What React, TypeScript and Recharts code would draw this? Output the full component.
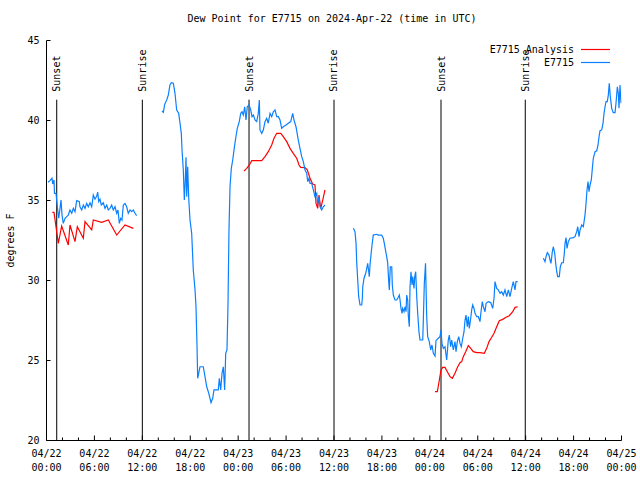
import React from 'react'
import { LineChart, Line, XAxis, YAxis, ReferenceLine, Legend } from 'recharts'

// hours after 2024-04-22 00:00 UTC, dew point in degrees F
const obs1: [number, number][] = [
  [0.19, 36.14], [0.44, 36.24], [0.69, 36.39], [0.78, 36.03], [0.94, 36.28], [1.0, 35.45],
  [1.19, 35.45], [1.4, 34.41], [1.53, 33.89], [1.69, 34.51], [1.82, 35.03], [1.94, 34.09],
  [2.1, 33.57], [2.32, 33.89], [2.53, 33.99], [2.73, 34.09], [2.94, 34.41], [3.16, 34.2],
  [3.36, 34.51], [3.57, 34.3], [3.78, 34.99], [4.11, 34.93], [4.19, 34.61], [4.41, 34.41],
  [4.61, 34.72], [4.82, 34.51], [5.03, 34.82], [5.23, 34.61], [5.45, 34.86], [5.66, 34.61],
  [5.86, 35.34], [6.07, 35.08], [6.29, 35.28], [6.41, 35.53], [6.54, 34.93], [6.7, 35.08],
  [6.86, 34.72], [7.11, 34.86], [7.33, 34.51], [7.54, 34.72], [7.74, 34.41], [7.95, 34.51],
  [8.16, 34.72], [8.36, 34.41], [8.58, 34.61], [8.79, 34.2], [8.95, 34.41], [9.12, 33.57],
  [9.29, 33.89], [9.45, 33.78], [9.62, 34.72], [9.83, 34.82], [10.04, 34.61], [10.24, 34.2],
  [10.46, 34.41], [10.67, 34.3], [10.87, 34.41], [11.08, 34.2], [11.29, 34.05],
]

const obs2: [number, number][] = [
  [14.46, 40.59], [14.63, 40.51], [14.8, 41.01], [15.05, 41.28], [15.25, 41.59], [15.46, 42.22],
  [15.63, 42.36], [15.88, 42.33], [16.09, 41.7], [16.3, 40.66], [16.55, 40.45], [16.72, 39.83],
  [16.88, 39.2], [16.97, 38.16], [17.13, 36.91], [17.26, 35.03], [17.38, 36.28], [17.47, 37.7],
  [17.56, 35.24], [17.68, 37.11], [17.81, 35.14], [17.97, 33.78], [18.18, 32.95], [18.38, 30.66],
  [18.6, 29.41], [18.72, 28.36], [18.85, 25.86], [18.93, 23.89], [19.1, 24.3], [19.22, 24.61],
  [19.63, 24.61], [19.85, 23.99], [20.06, 23.36], [20.26, 23.05], [20.47, 22.64], [20.6, 22.36],
  [20.81, 22.64], [20.97, 23.16], [21.31, 23.16], [21.51, 23.16], [21.64, 23.89], [21.81, 23.16],
  [21.98, 24.2], [22.14, 24.61], [22.31, 23.16], [22.44, 25.45], [22.6, 25.66], [22.73, 28.57],
  [22.85, 33.16], [22.98, 35.86], [23.14, 37.01], [23.32, 37.53], [23.48, 38.16], [23.69, 38.89],
  [23.89, 39.51], [24.14, 39.93], [24.32, 40.45], [24.48, 40.55], [24.64, 40.34], [24.82, 40.86],
  [24.98, 40.03], [25.14, 40.86], [25.36, 40.97], [25.57, 40.66], [25.73, 40.24], [25.9, 40.34],
  [26.11, 40.03], [26.32, 39.93], [26.52, 40.45], [26.65, 41.28], [26.73, 39.41], [26.95, 39.2],
  [27.15, 39.41], [27.36, 39.93], [27.57, 40.14], [27.77, 39.83], [27.99, 40.45], [28.2, 40.24],
  [28.4, 40.55], [28.61, 40.66], [28.83, 40.24], [29.03, 40.24], [29.24, 40.03], [29.45, 39.51],
  [29.65, 39.61], [29.99, 39.72], [30.28, 39.83], [30.58, 39.93], [30.83, 40.45], [30.99, 40.03],
  [31.24, 39.61], [31.53, 38.78], [31.74, 38.26], [31.96, 37.74], [32.16, 37.43], [32.37, 36.91],
  [32.58, 36.7], [32.71, 36.18], [32.87, 36.39], [33.0, 36.07], [33.21, 36.07], [33.41, 35.66],
  [33.62, 35.24], [33.84, 35.45], [33.96, 34.72], [34.12, 35.24], [34.25, 34.61], [34.46, 34.41],
  [34.66, 34.61], [34.87, 34.72],
]

const obs3: [number, number][] = [
  [38.42, 33.26], [38.63, 33.05], [38.76, 32.32], [38.84, 31.18], [38.97, 30.03], [39.09, 28.99],
  [39.26, 28.47], [39.47, 28.47], [39.55, 28.89], [39.6, 29.61], [39.76, 30.14], [39.97, 30.45],
  [40.1, 30.76], [40.22, 31.07], [40.35, 30.55], [40.42, 30.24], [40.51, 30.97], [40.63, 31.59],
  [40.76, 32.22], [40.92, 32.84], [41.35, 32.89], [41.55, 32.84], [41.97, 32.84], [42.17, 32.64],
  [42.3, 32.32], [42.48, 31.8], [42.6, 31.49], [42.73, 31.07], [42.85, 29.93], [42.93, 29.41],
  [43.05, 30.86], [43.23, 30.86], [43.3, 29.72], [43.43, 29.09], [43.64, 28.78], [43.85, 28.78],
  [44.05, 28.95], [44.18, 29.09], [44.27, 28.78], [44.39, 28.26], [44.52, 27.95], [44.6, 28.26],
  [44.77, 28.05], [44.89, 28.36], [45.02, 28.05], [45.1, 29.09], [45.23, 28.78], [45.3, 27.84],
  [45.43, 27.11], [45.52, 29.61], [45.64, 30.55], [45.77, 29.72], [45.86, 30.24], [46.02, 29.51],
  [46.11, 30.24], [46.23, 30.55], [46.36, 28.99], [46.48, 27.95], [46.64, 26.8], [46.77, 26.28],
  [47.11, 26.28], [47.18, 27.43], [47.31, 29.82], [47.46, 31.07], [47.61, 27.74], [47.73, 26.49],
  [47.93, 26.18], [48.11, 25.66], [48.27, 25.97], [48.44, 25.45], [48.65, 25.28], [48.77, 26.24],
  [49.06, 26.39], [49.27, 26.49], [49.4, 26.91], [49.52, 26.07], [49.69, 25.76], [49.9, 25.86],
  [50.11, 25.03], [50.31, 26.28], [50.44, 26.59], [50.61, 25.86], [50.74, 26.28], [50.94, 25.66],
  [51.15, 26.18], [51.28, 25.55], [51.44, 26.18], [51.62, 26.49], [51.78, 26.07], [51.94, 25.86],
  [52.12, 26.39], [52.28, 26.8], [52.41, 27.53], [52.53, 27.84], [52.69, 27.11], [52.82, 27.74],
  [52.94, 27.01], [53.12, 27.64], [53.24, 28.16], [53.37, 28.47], [53.53, 28.26], [53.66, 27.95],
  [53.87, 27.74], [54.07, 27.74], [54.28, 27.43], [54.41, 28.05], [54.57, 28.68], [54.7, 28.36],
  [54.91, 28.05], [55.04, 28.57], [55.32, 28.68], [55.62, 28.62], [55.87, 28.26], [56.04, 28.89],
  [56.16, 29.93], [56.37, 29.51], [56.57, 29.41], [56.79, 29.2], [57.0, 29.3], [57.2, 29.09],
  [57.41, 29.41], [57.63, 28.99], [57.83, 29.41], [58.04, 28.99], [58.25, 29.51], [58.45, 29.93],
  [58.67, 29.41], [58.79, 29.93], [59.0, 29.93],
]

const obs4: [number, number][] = [
  [62.21, 31.39], [62.42, 31.18], [62.55, 31.49], [62.71, 31.74], [62.92, 31.59], [63.05, 31.28],
  [63.17, 31.07], [63.34, 31.8], [63.46, 32.11], [63.64, 31.7], [63.76, 31.07], [63.89, 30.55],
  [64.01, 30.24], [64.21, 30.24], [64.34, 30.86], [64.51, 31.11], [64.71, 31.11], [64.84, 31.7],
  [64.93, 32.32], [65.05, 32.68], [65.18, 32.01], [65.34, 32.43], [65.55, 32.64], [65.97, 32.68],
  [66.18, 32.74], [66.39, 33.05], [66.52, 33.36], [66.68, 32.74], [66.81, 33.16], [67.02, 33.47],
  [67.22, 33.36], [67.43, 34.09], [67.56, 34.82], [67.68, 35.66], [67.81, 36.18], [67.93, 35.55],
  [68.06, 35.97], [68.22, 36.28], [68.35, 37.01], [68.47, 37.64], [68.69, 38.05], [68.9, 38.11],
  [69.06, 38.47], [69.19, 38.99], [69.31, 39.36], [69.52, 39.41], [69.69, 39.83], [69.81, 40.45],
  [69.94, 40.86], [70.06, 41.18], [70.22, 41.18], [70.35, 41.59], [70.47, 42.33], [70.6, 41.49],
  [70.77, 40.76], [70.97, 40.49], [71.19, 40.49], [71.31, 41.08], [71.48, 42.11], [71.6, 41.7],
  [71.69, 40.76], [71.81, 42.22], [71.94, 41.08],
]

const ana1: [number, number][] = [
  [0.73, 34.26], [0.94, 34.26], [1.19, 33.36], [1.48, 32.32], [1.9, 33.41], [2.73, 32.22],
  [2.94, 33.47], [3.57, 32.43], [3.86, 33.36], [4.61, 32.64], [4.82, 33.68], [5.66, 33.16],
  [5.86, 33.78], [6.91, 33.63], [7.74, 33.78], [8.79, 32.84], [9.83, 33.47], [10.87, 33.26],
]

const ana2: [number, number][] = [
  [24.73, 36.84], [25.07, 37.01], [25.4, 37.22], [25.7, 37.49], [26.95, 37.49], [27.36, 37.74],
  [27.77, 38.05], [28.2, 38.47], [28.49, 38.89], [28.83, 39.2], [29.33, 39.2], [29.65, 38.99],
  [30.08, 38.68], [30.49, 38.26], [30.9, 37.95], [31.33, 37.64], [31.62, 37.22], [31.83, 37.07],
  [32.37, 37.05], [32.66, 36.91], [33.0, 36.39], [33.33, 36.03], [33.62, 35.97], [33.75, 34.82],
  [33.96, 34.51], [34.12, 35.34], [34.34, 34.51], [34.59, 35.03], [34.87, 35.66],
]

const ana3: [number, number][] = [
  [48.65, 23.05], [48.94, 23.05], [49.19, 23.78], [49.4, 24.41], [49.61, 24.57], [49.9, 24.57],
  [50.19, 24.3], [50.53, 23.99], [50.82, 23.89], [51.15, 24.2], [51.49, 24.61], [51.78, 24.86],
  [51.99, 24.93], [52.19, 25.24], [52.49, 25.55], [52.82, 25.93], [53.12, 25.76], [53.44, 25.55],
  [53.87, 25.49], [54.28, 25.49], [54.82, 25.45], [55.12, 25.76], [55.41, 26.18], [55.75, 26.45],
  [56.04, 26.7], [56.37, 27.11], [56.7, 27.49], [57.13, 27.57], [57.54, 27.7], [57.95, 27.8],
  [58.38, 28.05], [58.67, 28.32], [59.0, 28.36],
]

const SUNSETS = [1.28, 25.36, 49.4]
const SUNRISES = [12.0, 36.0, 59.95]
const MARKER_TOP = 41.3

const HOUR_TICKS = [0, 2, 4, 6, 8, 10, 12, 14, 16, 18, 20, 22, 24, 26, 28, 30, 32, 34, 36,
  38, 40, 42, 44, 46, 48, 50, 52, 54, 56, 58, 60, 62, 64, 66, 68, 70, 72]
const DEG_TICKS = [20, 25, 30, 35, 40, 45]

const RED = '#ff0000'
const BLUE = '#0a80ff'
const FONT = '"DejaVu Sans Mono", monospace'

// segments joined with a null row so the line breaks in the gaps
function joinSegments(segs: [number, number][][]) {
  const rows: { h: number; v: number | null }[] = []
  segs.forEach((seg, i) => {
    if (i > 0) rows.push({ h: seg[0][0] - 0.05, v: null })
    seg.forEach(([h, v]) => rows.push({ h, v }))
  })
  return rows
}

const obsData = joinSegments([obs1, obs2, obs3, obs4])
const anaData = joinSegments([ana1, ana2, ana3])

function BottomTick({ x, y, payload }: any) {
  const h = payload.value
  const major = h % 6 === 0
  const day = 22 + Math.floor(h / 24)
  const hh = String(h % 24).padStart(2, '0')
  return (
    <g>
      <line x1={x} x2={x} y1={y} y2={y - (major ? 5 : 3)} stroke="#000" />
      {major && (
        <text x={x} y={y} textAnchor="middle" fontFamily={FONT} fontSize={10} fill="#000">
          <tspan x={x} dy={16}>{`04/${day}`}</tspan>
          <tspan x={x} dy={14}>{`${hh}:00`}</tspan>
        </text>
      )}
    </g>
  )
}

function TopTick({ x, y, payload }: any) {
  const major = payload.value % 6 === 0
  return <line x1={x} x2={x} y1={y} y2={y + (major ? 5 : 3)} stroke="#000" />
}

function LeftTick({ x, y, payload }: any) {
  return (
    <g>
      <line x1={x} x2={x + 4} y1={y} y2={y} stroke="#000" />
      <text x={x - 7} y={y} dy="0.35em" textAnchor="end" fontFamily={FONT} fontSize={10} fill="#000">
        {payload.value}
      </text>
    </g>
  )
}

function RightTick({ x, y }: any) {
  return <line x1={x} x2={x - 4} y1={y} y2={y} stroke="#000" />
}

function markerLabel(text: string) {
  return ({ viewBox }: any) => {
    const x = viewBox.x
    const y = viewBox.y - 8
    return (
      <text
        x={x} y={y} dy="0.35em" textAnchor="start" fontFamily={FONT} fontSize={10} fill="#000"
        transform={`rotate(-90 ${x} ${y})`}
      >
        {text}
      </text>
    )
  }
}

function LegendBox() {
  const rows = [
    { name: 'E7715 Analysis', color: RED },
    { name: 'E7715', color: BLUE },
  ]
  return (
    <div style={{ fontFamily: FONT, fontSize: 10, lineHeight: '13px', color: '#000' }}>
      {rows.map((r) => (
        <div key={r.name} style={{ display: 'flex', justifyContent: 'flex-end', alignItems: 'center' }}>
          <span>{r.name}</span>
          <svg width={29} height={13} style={{ marginLeft: 7 }}>
            <line x1={0} x2={29} y1={6.5} y2={6.5} stroke={r.color} strokeWidth={1.2} />
          </svg>
        </div>
      ))}
    </div>
  )
}

export default function App() {
  return (
    <div style={{ position: 'absolute', left: 0, top: 0, width: 640, height: 480, background: '#fff' }}>
      <div
        style={{
          position: 'absolute', top: 12, left: 0, width: 664, textAlign: 'center',
          fontFamily: FONT, fontSize: 10, lineHeight: '14px', color: '#000',
        }}
      >
        Dew Point for E7715 on 2024-Apr-22 (time in UTC)
      </div>
      <LineChart width={640} height={480} margin={{ top: 40.5, right: 18.5, bottom: 0, left: 0 }}>
        <XAxis
          xAxisId="b" type="number" dataKey="h" domain={[0, 72]} ticks={HOUR_TICKS} interval={0}
          height={39.5} tickSize={0} tickMargin={0} tickLine={false}
          axisLine={{ stroke: '#000' }} tick={<BottomTick />} allowDataOverflow
        />
        <XAxis
          xAxisId="t" orientation="top" type="number" dataKey="h" domain={[0, 72]} ticks={HOUR_TICKS}
          interval={0} height={0} tickSize={0} tickMargin={0} tickLine={false}
          axisLine={{ stroke: '#000' }} tick={<TopTick />} allowDataOverflow
        />
        <YAxis
          yAxisId="l" type="number" domain={[20, 45]} ticks={DEG_TICKS} interval={0} width={46.5}
          tickSize={0} tickMargin={0} tickLine={false} axisLine={{ stroke: '#000' }} tick={<LeftTick />}
          label={({ viewBox }: any) => {
            const x = viewBox.x + 10
            const y = viewBox.y + viewBox.height / 2
            return (
              <text
                x={x} y={y} dy="0.35em" textAnchor="middle" fontFamily={FONT} fontSize={10} fill="#000"
                transform={`rotate(-90 ${x} ${y})`}
              >
                degrees F
              </text>
            )
          }}
        />
        <YAxis
          yAxisId="r" orientation="right" type="number" domain={[20, 45]} ticks={DEG_TICKS} interval={0}
          width={0} tickSize={0} tickMargin={0} tickLine={false} axisLine={{ stroke: '#000' }}
          tick={<RightTick />}
        />
        {SUNSETS.map((t) => (
          <ReferenceLine
            key={`ss${t}`} xAxisId="b" yAxisId="l" stroke="#000" strokeWidth={1}
            segment={[{ x: t, y: MARKER_TOP }, { x: t, y: 20 }]} label={markerLabel('Sunset')}
          />
        ))}
        {SUNRISES.map((t) => (
          <ReferenceLine
            key={`sr${t}`} xAxisId="b" yAxisId="l" stroke="#000" strokeWidth={1}
            segment={[{ x: t, y: MARKER_TOP }, { x: t, y: 20 }]} label={markerLabel('Sunrise')}
          />
        ))}
        <Line
          xAxisId="b" yAxisId="l" data={anaData} dataKey="v" name="E7715 Analysis" type="linear"
          stroke={RED} strokeWidth={1.2} dot={false} activeDot={false} connectNulls={false}
          isAnimationActive={false}
        />
        <Line
          xAxisId="b" yAxisId="l" data={obsData} dataKey="v" name="E7715" type="linear"
          stroke={BLUE} strokeWidth={1.2} dot={false} activeDot={false} connectNulls={false}
          isAnimationActive={false}
        />
        <Legend
          layout="horizontal" verticalAlign="middle" align="center" content={<LegendBox />}
          wrapperStyle={{ top: 43, right: 30, left: 'auto', width: 'auto', height: 'auto' }}
        />
      </LineChart>
    </div>
  )
}
